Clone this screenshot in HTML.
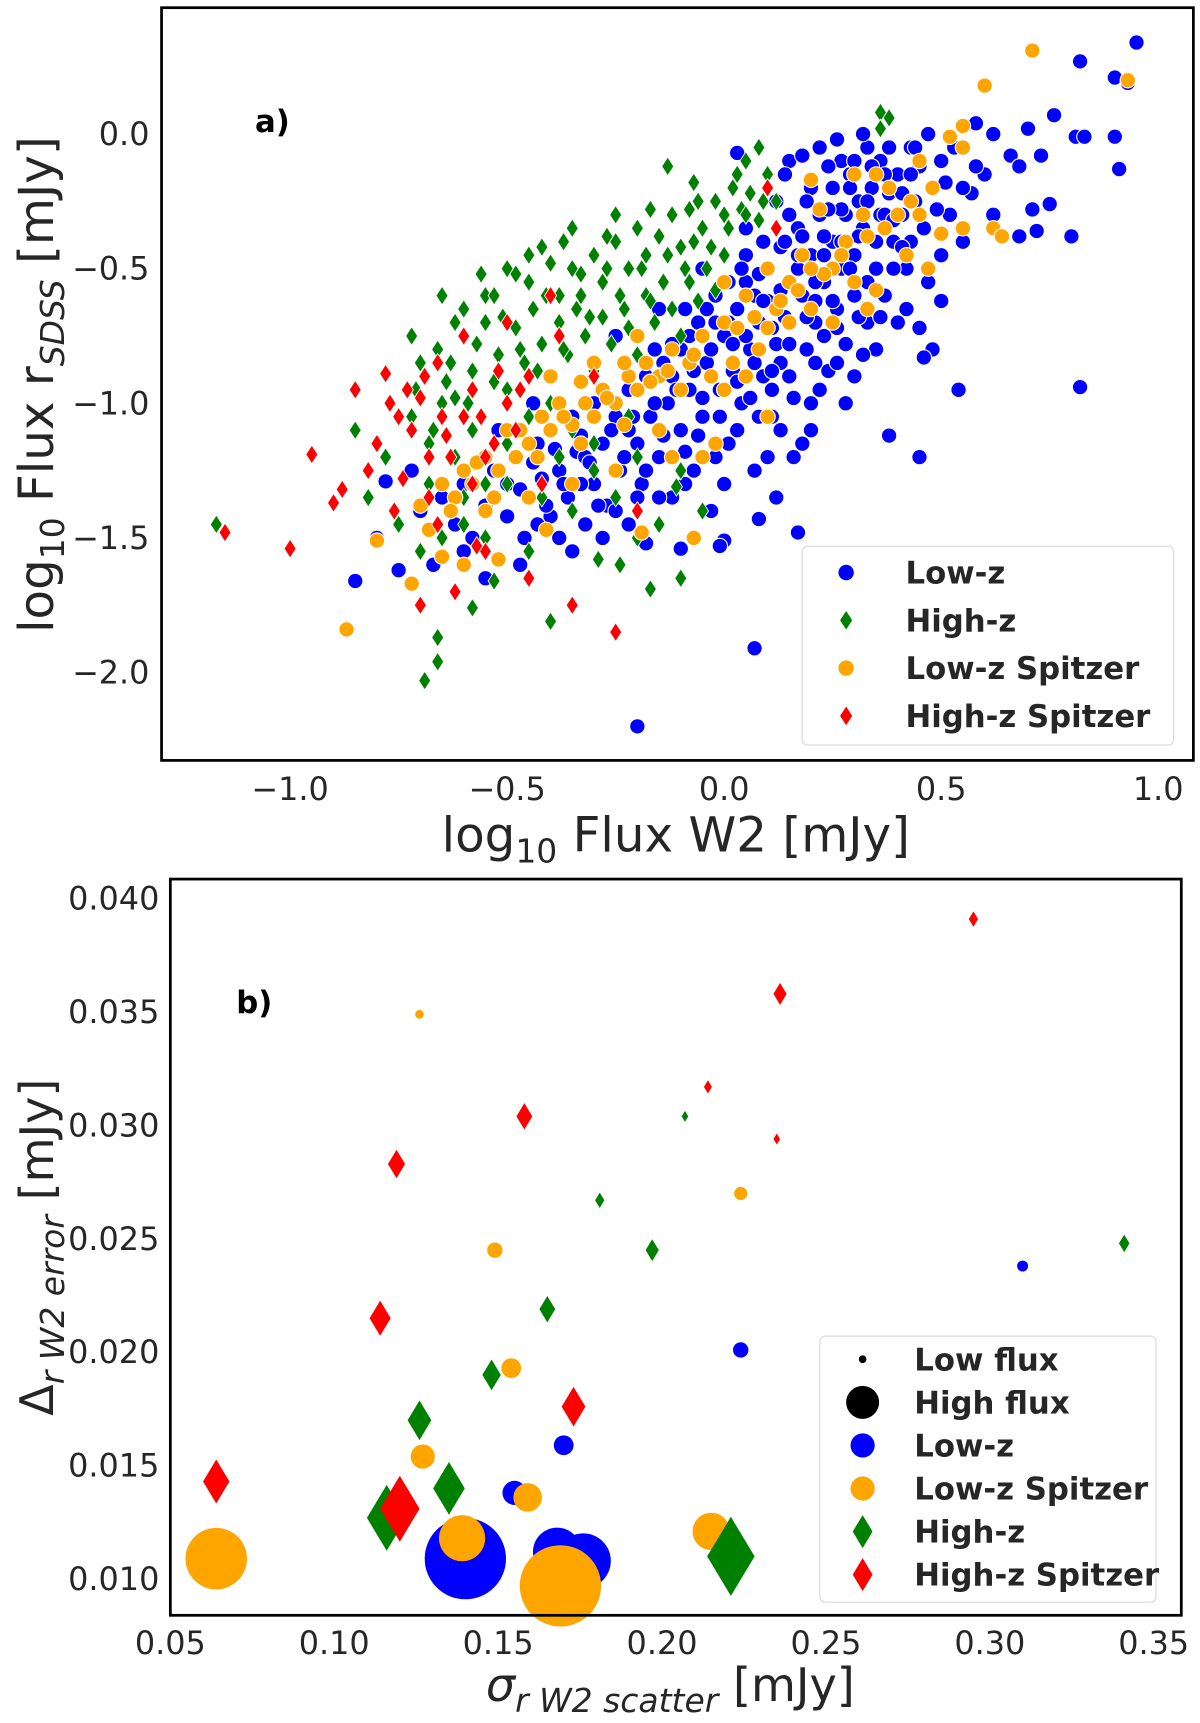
<!DOCTYPE html>
<html><head><meta charset="utf-8"><style>
body{margin:0;background:#fff}
svg{display:block}
text{font-family:"DejaVu Sans","Liberation Sans",sans-serif;fill:#262626}
.tk{font-size:29px}
.lg{font-size:28px;font-weight:bold}
</style></head><body>
<svg id="fig" width="1200" height="1723" viewBox="0 0 1092 1568" xmlns="http://www.w3.org/2000/svg">
<rect width="1092" height="1568" fill="#fff"/>
<g id="gtop"></g>
<g id="gbot"></g>
<rect x="147" y="7" width="939" height="685" fill="none" stroke="#000" stroke-width="2.5"/>
<rect x="155" y="800" width="920" height="670" fill="none" stroke="#000" stroke-width="2.5"/>
<text x="232" y="120" style="font-size:28px;font-weight:bold;fill:#000">a)</text>
<text x="215" y="922" style="font-size:28px;font-weight:bold;fill:#000">b)</text>
<text x="615" y="775" text-anchor="middle" style="font-size:44px">log<tspan font-size="30" dy="10">10</tspan><tspan dy="-10"> Flux W2 [mJy]</tspan></text>
<text transform="translate(48,350) rotate(-90)" text-anchor="middle" style="font-size:44px">log<tspan font-size="30" dy="10">10</tspan><tspan dy="-10"> Flux r</tspan><tspan font-size="30" font-style="italic" dy="10">SDSS</tspan><tspan dy="-10"> [mJy]</tspan></text>
<text x="610" y="1548" text-anchor="middle" style="font-size:42px"><tspan font-style="italic">σ</tspan><tspan font-size="30" font-style="italic" dy="10">r W2 scatter</tspan><tspan dy="-10"> [mJy]</tspan></text>
<text transform="translate(48,1135) rotate(-90)" text-anchor="middle" style="font-size:42px">Δ<tspan font-size="30" font-style="italic" dy="10">r W2 error</tspan><tspan dy="-10"> [mJy]</tspan></text>
</svg>
<script>
const NS="http://www.w3.org/2000/svg";
const xTicksA=[-1.0,-0.5,0.0,0.5,1.0];
const xTickLabelsA=["−1.0","−0.5","0.0","0.5","1.0"];
const yTicksA=[0.0,-0.5,-1.0,-1.5,-2.0];
const yTickLabelsA=["0.0","−0.5","−1.0","−1.5","−2.0"];
const lowZ=[[0.95,0.34],[0.82,0.27],[0.9,0.21],[0.93,0.19],[0.76,0.07],[0.7,0.02],[0.81,-0.01],[0.83,-0.01],[0.9,-0.01],[0.91,-0.13],[0.73,-0.08],[0.62,0.0],[0.58,0.04],[0.66,-0.08],[0.68,-0.12],[0.6,-0.15],[0.57,-0.22],[0.75,-0.26],[0.71,-0.28],[0.68,-0.38],[0.72,-0.36],[0.8,-0.38],[0.55,-0.4],[0.47,-0.55],[0.5,-0.62],[0.45,-0.72],[0.48,-0.8],[0.46,-0.83],[0.54,-0.95],[0.82,-0.94],[0.38,-1.12],[0.45,-1.2],[0.17,-1.48],[0.08,-1.43],[0.07,-1.91],[-0.2,-2.2],[-0.18,-1.52],[0.0,-1.51],[-0.01,-1.53],[-0.1,-1.54],[-0.85,-1.66],[-0.75,-1.62],[-0.78,-1.29],[-0.55,-1.65],[-0.47,-1.6],[0.03,-0.07],[0.15,-0.1],
[-0.7,-1.4],[-0.65,-1.35],[-0.62,-1.45],[-0.6,-1.3],[-0.58,-1.5],[-0.55,-1.38],[-0.53,-1.25],[-0.5,-1.42],[-0.5,-1.3],[-0.48,-1.2],[-0.46,-1.5],[-0.45,-1.35],[-0.43,-1.15],[-0.42,-1.28],[-0.4,-1.42],[-0.4,-1.1],[-0.38,-1.25],[-0.36,-1.35],[-0.35,-1.05],[-0.34,-1.18],[-0.32,-1.45],[-0.3,-1.3],[-0.3,-1.0],[-0.28,-1.15],[-0.27,-1.38],[-0.25,-1.05],[-0.24,-1.25],[-0.22,-0.95],[-0.22,-1.45],[-0.2,-1.15],[-0.19,-1.3],[-0.18,-0.9],[-0.17,-1.05],[-0.15,-1.2],[-0.14,-0.85],[-0.13,-1.0],[-0.12,-1.35],[-0.1,-1.1],[-0.1,-0.8],[-0.08,-0.95],[-0.07,-1.25],[-0.06,-0.7],[-0.05,-1.05],[-0.04,-0.85],[-0.03,-1.4],[-0.02,-0.6],[-0.01,-0.95],[0.0,-0.75],[0.01,-1.15],[0.02,-0.88],[0.03,-0.65],[0.04,-1.0],[0.05,-0.55],[0.06,-0.8],[0.07,-1.25],[0.08,-0.7],[0.09,-0.9],[0.1,-0.5],[0.1,-0.62],[0.11,-1.05],[0.12,-0.78],[0.13,-0.42],[0.14,-0.68],[0.15,-0.9],[0.15,-0.55],[0.16,-1.2],[0.17,-0.35],[0.18,-0.6],[0.19,-0.8],[0.2,-0.45],[0.2,-1.0],[0.21,-0.7],[0.22,-0.3],[0.23,-0.55],[0.24,-0.88],[0.25,-0.4],[0.25,-0.2],[0.26,-0.65],[0.27,-0.5],[0.28,-0.3],[0.28,-0.78],[0.29,-0.15],[0.3,-0.45],[0.3,-0.6],[0.31,-0.25],[0.32,-0.35],[0.33,-0.7],[0.34,-0.2],[0.35,-0.5],[0.36,-0.1],[0.36,-0.3],[0.37,-0.6],[0.38,-0.22],[0.39,-0.4],[0.4,-0.15],[0.41,-0.3],[0.42,-0.5],[0.43,-0.05],[0.44,-0.25],[0.45,-0.12],[0.46,-0.35],[0.48,-0.2],[0.5,-0.1],[0.52,-0.3],[0.53,-0.05],[0.55,-0.2],[0.33,-0.05],[0.27,-0.1],[0.2,-0.2],[0.12,-0.25],[0.05,-0.35],[-0.05,-0.5],[0.0,-1.3],[0.1,-1.2],[0.2,-1.1],[0.3,-0.9],[-0.15,-0.65],[-0.25,-0.75],[0.05,-0.45],[0.15,-0.3],[0.22,-0.05],[0.32,0.0],[0.4,-0.7],[0.28,-1.0],[0.12,-1.35],[-0.35,-1.55],[-0.28,-1.5],[-0.6,-1.55],[-0.67,-1.6],[0.18,-1.15],[0.08,-1.05],[-0.02,-1.2],[0.26,-0.85],[0.35,-0.8],[0.42,-0.65],[-0.08,-0.75],[0.14,-0.15],[0.24,-0.12],[0.38,-0.05],[0.47,0.0],[0.58,-0.12],[0.62,-0.3],[0.5,-0.45],[-0.44,-1.0],[-0.52,-1.1],[-0.72,-1.25],[-0.8,-1.5],
[0.07,-0.6],[0.17,-0.5],[0.27,-0.4],[0.37,-0.3],[0.02,-0.78],[-0.12,-0.9],[-0.22,-1.1],[-0.32,-1.2],[0.13,-0.85],[0.23,-0.75],[0.33,-0.55],[0.43,-0.4],[0.09,-0.4],[0.19,-0.25],[0.29,-0.2],[-0.04,-0.65],[-0.16,-0.8],[0.11,-0.95],[0.21,-0.85],
[-0.47,-1.32],[-0.44,-1.22],[-0.41,-1.38],[-0.39,-1.17],[-0.37,-1.3],[-0.33,-1.12],[-0.31,-1.22],[-0.29,-1.38],[-0.26,-1.1],[-0.23,-1.2],[-0.21,-1.05],[-0.18,-1.25],[-0.16,-1.0],[-0.14,-1.12],[-0.11,-0.95],[-0.09,-1.18],[-0.07,-0.88],[-0.05,-0.98],[-0.03,-0.8],[-0.01,-1.05],[0.01,-0.7],[0.03,-0.92],[0.05,-0.75],[0.07,-0.85],[0.09,-0.62],[0.11,-0.72],[0.13,-0.58],[0.15,-0.78],[0.17,-0.45],[0.19,-0.68],[0.21,-0.55],[0.23,-0.38],[0.25,-0.62],[0.27,-0.28],[0.29,-0.5],[0.31,-0.38],[0.33,-0.25],[0.35,-0.4],[0.37,-0.15],[0.39,-0.32],[0.41,-0.22],[0.43,-0.15],[0.06,-0.98],[0.16,-0.98],[0.26,-0.72],[0.36,-0.68],[-0.06,-1.12],[-0.2,-1.35],[0.04,-0.5],[0.14,-0.4],[0.24,-0.28],[0.34,-0.12],[-0.33,-1.3],[-0.43,-1.45],[0.22,-0.95],[0.32,-0.82],[0.18,-0.38],[0.08,-0.52],[-0.02,-0.7],[-0.12,-0.78],[0.44,-0.05],[0.49,-0.28],[0.51,-0.18],[0.39,-0.5],[0.3,-0.1],[0.26,-0.02],[0.18,-0.08],[0.13,-1.1],[0.03,-1.1],[-0.09,-1.3],[-0.15,-1.35],[-0.25,-1.4],[-0.38,-1.5],[0.21,-0.62],[0.11,-0.88],[0.01,-0.55],[-0.09,-0.65],[0.31,-0.68],[0.41,-0.42],[0.23,-0.45]];
const highZ=[[-1.17,-1.45],[-0.69,-2.03],[-0.66,-1.96],[-0.66,-1.87],[-0.53,-1.66],[-0.58,-1.76],[-0.4,-1.81],[-0.17,-1.69],[-0.1,-1.65],[-0.29,-1.58],[-0.24,-1.6],[-0.11,-1.31],[0.36,0.08],[0.38,0.06],[0.36,0.02],[-0.13,-0.12],[-0.6,-0.65],[-0.55,-0.6],[-0.53,-0.6],[-0.48,-0.52],[-0.4,-0.48],[-0.45,-0.55],[-0.38,-0.6],[-0.35,-0.5],[-0.33,-0.6],[-0.3,-0.45],[-0.28,-0.55],[-0.25,-0.4],[-0.22,-0.5],[-0.2,-0.35],[-0.18,-0.45],[-0.15,-0.38],[-0.12,-0.3],[-0.1,-0.42],[-0.08,-0.28],[-0.05,-0.35],[-0.02,-0.25],[0.0,-0.3],[0.02,-0.2],[0.04,-0.28],[0.06,-0.22],[0.08,-0.32],[0.1,-0.15],[0.12,-0.25],[0.03,-0.15],[-0.06,-0.25],[-0.7,-0.85],[-0.66,-0.8],[-0.64,-0.92],[-0.6,-0.75],[-0.58,-0.88],[-0.55,-0.7],[-0.52,-0.82],[-0.5,-0.95],[-0.48,-0.72],[-0.46,-0.85],[-0.44,-0.65],[-0.42,-0.78],[-0.4,-0.9],[-0.38,-0.7],[-0.36,-0.82],[-0.34,-0.65],[-0.32,-0.75],[-0.3,-0.88],[-0.28,-0.68],[-0.26,-0.78],[-0.24,-0.6],[-0.22,-0.72],[-0.2,-0.82],[-0.18,-0.6],[-0.16,-0.7],[-0.14,-0.55],[-0.12,-0.65],[-0.1,-0.75],[-0.08,-0.55],[-0.06,-0.62],[-0.04,-0.5],[-0.02,-0.58],[0.0,-0.45],[-0.72,-1.05],[-0.68,-1.15],[-0.65,-1.0],[-0.62,-1.2],[-0.58,-1.1],[-0.55,-1.3],[-0.5,-1.15],[-0.45,-1.05],[-0.42,-1.35],[-0.38,-1.2],[-0.35,-1.4],[-0.3,-1.25],[-0.25,-1.35],[-0.2,-1.5],[-0.15,-1.45],[-0.05,-1.4],[-0.78,-1.2],[-0.82,-1.35],[-0.75,-1.45],[-0.7,-1.55],[-0.65,-1.5],[-0.6,-1.35],[-0.55,-1.5],[-0.45,-1.55],[-0.35,-1.1],[-0.28,-0.95],[-0.22,-1.05],[-0.15,-0.9],[-0.08,-0.85],[0.05,-0.1],[-0.65,-0.6],[-0.72,-0.75],[-0.35,-0.35],[-0.25,-0.3],[-0.42,-0.42],[0.08,-0.05],[-0.5,-0.5],[-0.85,-1.1],[-0.62,-0.98],
[-0.71,-0.95],[-0.67,-1.1],[-0.63,-0.85],[-0.59,-1.0],[-0.57,-0.78],[-0.53,-0.92],[-0.51,-0.68],[-0.47,-0.8],[-0.43,-0.88],[-0.41,-0.6],[-0.37,-0.8],[-0.33,-0.52],[-0.31,-0.68],[-0.27,-0.5],[-0.23,-0.65],[-0.19,-0.5],[-0.17,-0.62],[-0.13,-0.45],[-0.09,-0.5],[-0.07,-0.4],[-0.03,-0.42],[0.01,-0.35],[0.05,-0.3],[0.09,-0.25],[-0.45,-0.45],[-0.37,-0.4],[-0.27,-0.38],[-0.17,-0.28],[-0.07,-0.18],[-0.56,-0.52],[-0.62,-0.7],[-0.4,-1.0],[-0.3,-1.15],[-0.2,-1.2],[-0.1,-1.25],[-0.5,-1.3],[-0.6,-1.45],[-0.68,-1.3]];
const lowZSp=[[0.71,0.31],[0.6,0.18],[0.93,0.2],[0.55,0.03],[0.52,-0.01],[0.55,-0.05],[0.45,-0.1],[0.62,-0.35],[0.55,-0.35],[0.5,-0.37],[0.64,-0.38],[0.47,-0.5],[0.3,-0.55],[0.25,-0.7],[0.35,-0.58],[0.2,-0.65],[-0.87,-1.84],[-0.8,-1.51],[-0.72,-1.67],[-0.65,-1.57],[-0.68,-1.47],[-0.6,-1.6],[-0.52,-1.58],[-0.41,-1.47],[-0.19,-1.48],[-0.07,-1.5],[-0.12,-1.2],[-0.05,-1.2],[0.2,-0.17],[0.22,-0.28],[0.1,-0.5],[0.12,-0.65],[0.05,-0.6],[0.0,-0.7],[-0.05,-0.75],[-0.08,-0.85],[-0.12,-0.8],[-0.15,-0.9],[-0.18,-0.85],[-0.2,-0.95],[-0.22,-0.9],[-0.25,-1.0],[-0.28,-0.95],[-0.3,-1.05],[-0.32,-1.0],[-0.35,-1.08],[-0.38,-1.0],[-0.4,-1.1],[-0.42,-1.05],[-0.45,-1.15],[-0.48,-1.2],[-0.5,-1.1],[-0.52,-1.25],[-0.55,-1.2],[-0.58,-1.3],[-0.6,-1.25],[-0.62,-1.35],[-0.65,-1.3],[-0.7,-1.38],[-0.1,-0.95],[0.02,-0.85],[0.08,-0.8],[0.15,-0.7],[0.18,-0.45],[0.28,-0.4],[0.32,-0.3],[0.4,-0.3],[0.42,-0.45],[0.38,-0.2],[0.3,-0.15],[-0.15,-1.1],[-0.25,-1.25],[-0.35,-1.3],[-0.45,-1.35],[-0.3,-0.85],[-0.2,-0.75],[0.0,-0.55],[0.05,-0.9],[0.25,-0.5],[0.15,-0.55],[-0.4,-0.9],[-0.55,-1.4],[0.1,-1.05],[-0.02,-1.15],[0.33,-0.65],
[-0.47,-1.1],[-0.43,-1.2],[-0.37,-1.05],[-0.33,-1.15],[-0.27,-0.98],[-0.23,-1.08],[-0.17,-0.92],[-0.13,-0.88],[-0.07,-0.82],[-0.03,-0.9],[0.03,-0.72],[0.07,-0.68],[0.13,-0.62],[0.17,-0.58],[0.23,-0.52],[0.27,-0.45],[0.33,-0.38],[0.37,-0.35],[0.43,-0.25],[0.48,-0.2],[-0.57,-1.22],[-0.63,-1.4],[-0.53,-1.35],[-0.33,-0.92],[-0.23,-0.85],[0.0,-0.95],[0.1,-0.72],[0.2,-0.5],[0.35,-0.15],[0.45,-0.3]];
const highZSp=[[-1.15,-1.48],[-1.0,-1.54],[-0.95,-1.19],[-0.9,-1.37],[-0.88,-1.32],[-0.82,-1.25],[-0.78,-0.89],[-0.75,-1.05],[-0.73,-0.95],[-0.72,-1.1],[-0.7,-1.75],[-0.7,-0.98],[-0.68,-1.2],[-0.66,-0.85],[-0.65,-1.05],[-0.63,-1.2],[-0.6,-1.05],[-0.58,-0.95],[-0.55,-1.55],[-0.55,-1.2],[-0.52,-0.88],[-0.5,-1.0],[-0.48,-1.1],[-0.45,-0.9],[-0.62,-1.7],[-0.45,-1.65],[-0.25,-1.85],[-0.35,-1.75],[-0.57,-1.53],[-0.76,-1.4],[-0.8,-1.15],[-0.68,-1.35],[-0.85,-0.95],[0.1,-0.2],[0.12,-0.35],[-0.3,-0.9],[-0.4,-0.6],[-0.6,-0.75],[-0.42,-1.3],[-0.2,-1.4],[-0.38,-0.75],[-0.5,-0.7],
[-0.77,-1.0],[-0.69,-0.9],[-0.64,-1.12],[-0.56,-1.05],[-0.53,-1.15],[-0.47,-0.95],[-0.74,-1.28],[-0.66,-1.45],[-0.58,-1.3]];
const xTicksB=[0.05,0.10,0.15,0.20,0.25,0.30,0.35];
const xTickLabelsB=["0.05","0.10","0.15","0.20","0.25","0.30","0.35"];
const yTicksB=[0.010,0.015,0.020,0.025,0.030,0.035,0.040];
const yTickLabelsB=["0.010","0.015","0.020","0.025","0.030","0.035","0.040"];
const bLowZ=[[0.310,0.0238,5],[0.224,0.0201,7],[0.170,0.0159,9],[0.155,0.0138,11],[0.140,0.0109,37],[0.168,0.0112,22],[0.176,0.0108,25]];
const bLowZSp=[[0.126,0.0349,4],[0.224,0.0270,6],[0.149,0.0245,7],[0.154,0.0193,9],[0.127,0.0154,11],[0.159,0.0136,13],[0.064,0.0109,28],[0.139,0.0118,21],[0.215,0.0121,17],[0.169,0.0097,37]];
const bHighZ=[[0.181,0.0267,7],[0.207,0.0304,5],[0.197,0.0245,10],[0.341,0.0248,8],[0.165,0.0219,12],[0.148,0.0190,14],[0.126,0.0170,18],[0.135,0.0140,24],[0.116,0.0127,30],[0.221,0.0110,36]];
const bHighZSp=[[0.295,0.0391,7],[0.236,0.0358,10],[0.214,0.0317,6],[0.158,0.0304,12],[0.235,0.0294,5],[0.119,0.0283,13],[0.114,0.0215,16],[0.173,0.0176,18],[0.064,0.0143,20],[0.120,0.0131,30]];

const xA=v=>659+v*395, yA=v=>122-v*245;
const xB=v=>155+(v-0.05)*2983, yB=v=>1437-(v-0.010)*20640;

function el(parent,tag,attrs){const e=document.createElementNS(NS,tag);for(const k in attrs)e.setAttribute(k,attrs[k]);parent.appendChild(e);return e;}
const gTop=document.getElementById('gtop'), gBot=document.getElementById('gbot'), fig=document.getElementById('fig');
function circle(g,cx,cy,r,fill,stroke){return el(g,'circle',{cx:cx,cy:cy,r:r,fill:fill,stroke:stroke,'stroke-width':stroke==='none'?0:1});}
function diamond(g,cx,cy,hw,hh,fill,stroke){return el(g,'polygon',{points:`${cx},${cy-hh} ${cx+hw},${cy} ${cx},${cy+hh} ${cx-hw},${cy}`,fill:fill,stroke:stroke,'stroke-width':stroke==='none'?0:0.8});}

xTicksA.forEach((t,i)=>{const e=el(fig,'text',{x:xA(t),y:728,'text-anchor':'middle',class:'tk'});e.textContent=xTickLabelsA[i];

});
yTicksA.forEach((t,i)=>{const e=el(fig,'text',{x:136,y:yA(t)+10,'text-anchor':'end',class:'tk'});e.textContent=yTickLabelsA[i];

});
xTicksB.forEach((t,i)=>{const e=el(fig,'text',{x:xB(t),y:1505,'text-anchor':'middle',class:'tk'});e.textContent=xTickLabelsB[i];

});
yTicksB.forEach((t,i)=>{const e=el(fig,'text',{x:145,y:yB(t)+10,'text-anchor':'end',class:'tk'});e.textContent=yTickLabelsB[i];

});

lowZ.forEach(p=>{const c=circle(gTop,xA(p[0]),yA(p[1]),7,'#0000ff','#fff');

});
highZ.forEach(p=>{const d=diamond(gTop,xA(p[0]),yA(p[1]),5.5,8.5,'#008000','#fff');

});
lowZSp.forEach(p=>{const c=circle(gTop,xA(p[0]),yA(p[1]),7,'#ffa500','#fff');

});
highZSp.forEach(p=>{const d=diamond(gTop,xA(p[0]),yA(p[1]),5.5,8.5,'#ff0000','#fff');

});

bLowZ.forEach(p=>{const c=circle(gBot,xB(p[0]),yB(p[1]),p[2],'#0000ff','none');

});
bLowZSp.forEach(p=>{const c=circle(gBot,xB(p[0]),yB(p[1]),p[2],'#ffa500','none');

});
bHighZ.forEach(p=>{const d=diamond(gBot,xB(p[0]),yB(p[1]),p[2]*0.6,p[2],'#008000','none');

});
bHighZSp.forEach(p=>{const d=diamond(gBot,xB(p[0]),yB(p[1]),p[2]*0.6,p[2],'#ff0000','none');

});

const lga=el(fig,'g',{});


el(lga,'rect',{x:730,y:497,width:338,height:181,rx:5,fill:'#fff',stroke:'#ddd','stroke-width':1.2});
const laItems=[['c','#0000ff','Low-z'],['d','#008000','High-z'],['c','#ffa500','Low-z Spitzer'],['d','#ff0000','High-z Spitzer']];
laItems.forEach((it,i)=>{const y=521+i*43.5;
if(it[0]==='c')circle(lga,770,y,7,it[1],'none');else diamond(lga,770,y,5.5,8.5,it[1],'none');
const t=el(lga,'text',{x:824,y:y+10,class:'lg'});t.textContent=it[2];

});
const lgb=el(fig,'g',{});


el(lgb,'rect',{x:746,y:1216,width:306,height:242,rx:5,fill:'#fff',stroke:'#ddd','stroke-width':1.2});
const lbItems=[['c','#000',3.5,'Low flux'],['c','#000',15,'High flux'],['c','#0000ff',11,'Low-z'],['c','#ffa500',11,'Low-z Spitzer'],['d','#008000',15,'High-z'],['d','#ff0000',15,'High-z Spitzer']];
lbItems.forEach((it,i)=>{const y=1237+i*39.2;
if(it[0]==='c')circle(lgb,785,y,it[2],it[1],'none');else diamond(lgb,785,y,it[2]*0.6,it[2],it[1],'none');
const t=el(lgb,'text',{x:832,y:y+10,class:'lg'});t.textContent=it[3];

});
</script>
</body></html>
